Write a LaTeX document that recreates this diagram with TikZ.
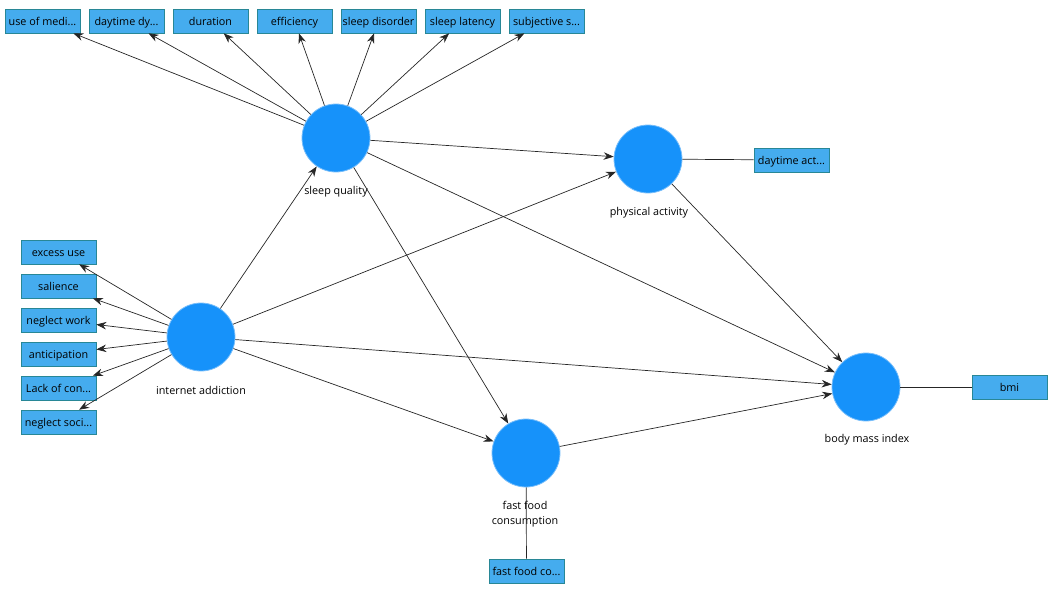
\documentclass[tikz,border=0pt]{standalone}
\usepackage{fontspec}
\setmainfont{Open Sans}
\usetikzlibrary{arrows.meta}
\definecolor{latent}{RGB}{22,146,250}
\definecolor{latentrim}{RGB}{120,190,250}
\definecolor{itembox}{RGB}{69,172,238}
\definecolor{itemrim}{RGB}{40,135,150}
\begin{document}
\begin{tikzpicture}[x=1pt,y=-1pt,
  construct/.style={circle,fill=latent,draw=latentrim,line width=0.8pt,minimum size=68pt,inner sep=0pt},
  indicator/.style={rectangle,fill=itembox,draw=itemrim,line width=0.6pt,minimum width=75pt,minimum height=24pt,inner sep=0pt,text height=10pt,text depth=1pt,font=\fontsize{10.8pt}{13pt}\selectfont},
  lbl/.style={font=\fontsize{10.8pt}{15.5pt}\selectfont,align=center,inner sep=0pt},
  path/.style={-{Stealth[length=10pt,width=7.5pt]},line width=0.7pt,draw=black!85},
  load/.style={line width=0.7pt,draw=black!85}]
  \useasboundingbox (0,0) rectangle (1052,589);
  % latent variables
  \node[construct] (sq) at (336,138) {};
  \node[construct] (pa) at (648,159) {};
  \node[construct] (ia) at (201,337) {};
  \node[construct] (bm) at (866,387) {};
  \node[construct] (ff) at (526,453) {};
  \node[lbl] (sqlbl) at (336,192) {sleep quality};
  \node[lbl] (palbl) at (649,213) {physical activity};
  \node[lbl] (ialbl) at (201,390) {internet addiction};
  \node[lbl] (bmlbl) at (867,440) {body mass index};
  \node[lbl] (fflbl) at (525,514) {fast food\\consumption};
  % indicators of sleep quality
  \node[indicator] (sq1) at (42.5,21) {use of medi...};
  \node[indicator] (sq2) at (126.5,21) {daytime dy...};
  \node[indicator] (sq3) at (210.5,21) {duration};
  \node[indicator] (sq4) at (294.5,21) {efficiency};
  \node[indicator] (sq5) at (378.5,21) {sleep disorder};
  \node[indicator] (sq6) at (462.5,21) {sleep latency};
  \node[indicator] (sq7) at (546.5,21) {subjective s...};
  % indicators of internet addiction
  \node[indicator] (ia1) at (58.5,252) {excess use};
  \node[indicator] (ia2) at (58.5,286) {salience};
  \node[indicator] (ia3) at (58.5,320) {neglect work};
  \node[indicator] (ia4) at (58.5,354) {anticipation};
  \node[indicator] (ia5) at (58.5,388) {Lack of con...};
  \node[indicator] (ia6) at (58.5,422) {neglect soci...};
  % single indicators
  \node[indicator] (pa1) at (791.5,160) {daytime act...};
  \node[indicator] (bm1) at (1009.5,387) {bmi};
  \node[indicator] (ff1) at (526.5,571) {fast food co...};
  % outer model
  \foreach \i in {1,...,7} \draw[path] (sq) -- (sq\i);
  \foreach \i in {1,...,6} \draw[path] (ia) -- (ia\i);
  \draw[load] (pa) -- (pa1);
  \draw[load] (bm) -- (bm1);
  \draw[load] (ff) -- (ff1);
  % inner model
  \draw[path] (ia) -- (sq);
  \draw[path] (ia) -- (pa);
  \draw[path] (ia) -- (bm);
  \draw[path] (ia) -- (ff);
  \draw[path] (sq) -- (pa);
  \draw[path] (sq) -- (bm);
  \draw[path] (sq) -- (ff);
  \draw[path] (pa) -- (bm);
  \draw[path] (ff) -- (bm);
\end{tikzpicture}
\end{document}
